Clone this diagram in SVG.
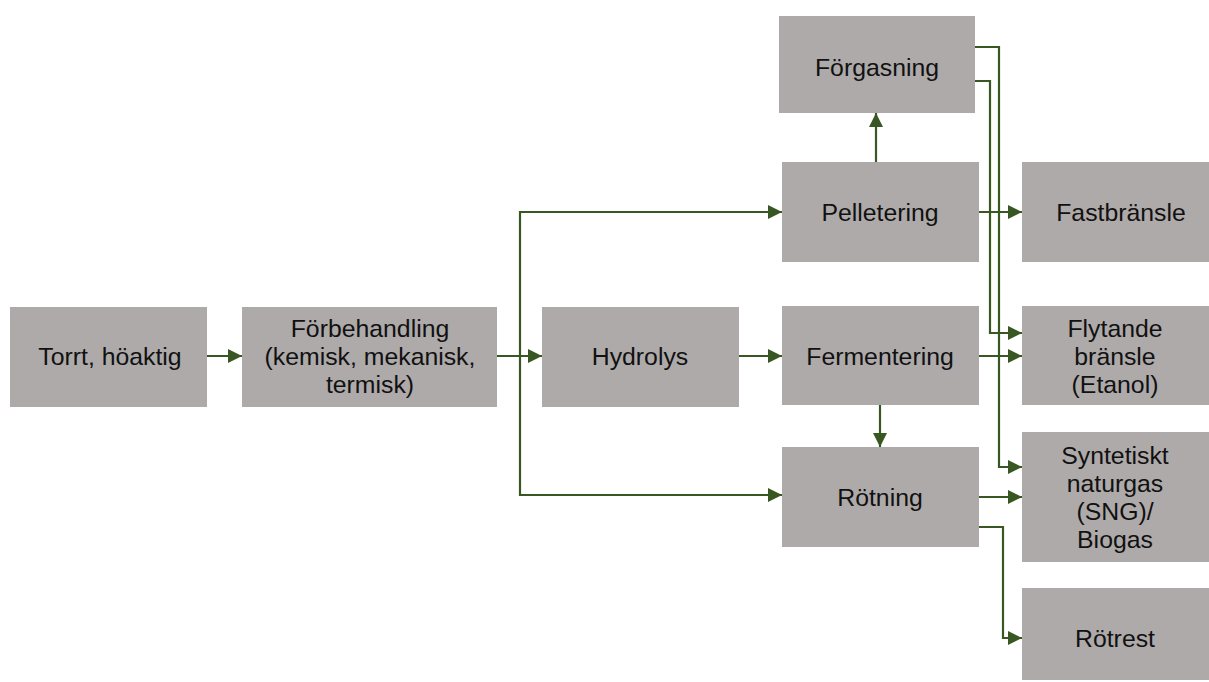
<svg xmlns="http://www.w3.org/2000/svg" width="1209" height="682" viewBox="0 0 1209 682">
<style>
.box{fill:#AEAAAA;}
.t{font-family:"Liberation Sans",Arial,sans-serif;font-size:24.8px;fill:#111;text-anchor:middle;}
.c{fill:none;stroke:#385723;stroke-width:2.2;marker-end:url(#ah);}
</style>
<defs>
<marker id="ah" markerUnits="userSpaceOnUse" markerWidth="14" markerHeight="14" refX="14" refY="7" orient="auto">
<path d="M0,0 L14,7 L0,14 z" fill="#385723"/>
</marker>
</defs>
<rect width="1209" height="682" fill="#fff"/>
<g id="torrt"><rect class="box" x="10" y="307" width="197" height="100"/><text class="t" x="110" y="365">Torrt, höaktig</text></g>
<g id="forbehandling"><rect class="box" x="242" y="307" width="255" height="100"/><text class="t" x="370" y="337">Förbehandling</text><text class="t" x="370" y="365">(kemisk, mekanisk,</text><text class="t" x="370" y="393">termisk)</text></g>
<g id="hydrolys"><rect class="box" x="542" y="307" width="197" height="100"/><text class="t" x="640" y="365">Hydrolys</text></g>
<g id="forgasning"><rect class="box" x="779" y="16" width="196" height="97"/><text class="t" x="877" y="76">Förgasning</text></g>
<g id="pelletering"><rect class="box" x="782" y="162" width="197" height="100"/><text class="t" x="880" y="221">Pelletering</text></g>
<g id="fermentering"><rect class="box" x="782" y="306" width="197" height="99"/><text class="t" x="880" y="365">Fermentering</text></g>
<g id="rotning"><rect class="box" x="782" y="447" width="197" height="100"/><text class="t" x="880" y="506">Rötning</text></g>
<g id="fastbransle"><rect class="box" x="1022" y="162" width="187" height="100"/><text class="t" x="1121" y="221">Fastbränsle</text></g>
<g id="flytande"><rect class="box" x="1022" y="306" width="187" height="99"/><text class="t" x="1115" y="337">Flytande</text><text class="t" x="1115" y="365">bränsle</text><text class="t" x="1115" y="393">(Etanol)</text></g>
<g id="sng"><rect class="box" x="1022" y="432" width="187" height="130"/><text class="t" x="1115" y="464">Syntetiskt</text><text class="t" x="1115" y="492">naturgas</text><text class="t" x="1115" y="520">(SNG)/</text><text class="t" x="1115" y="548">Biogas</text></g>
<g id="rotrest"><rect class="box" x="1022" y="588" width="187" height="92"/><text class="t" x="1115" y="647">Rötrest</text></g>
<g id="connectors">
<path class="c" d="M207,356 H242"/>
<path class="c" d="M497,356 H542"/>
<path class="c" d="M520,356 V212 H782"/>
<path class="c" d="M520,356 V495 H782"/>
<path class="c" d="M739,356 H782"/>
<path class="c" d="M876,162 V113"/>
<path class="c" d="M880,405 V447"/>
<path class="c" d="M979,212 H1022"/>
<path class="c" d="M979,356 H1022"/>
<path class="c" d="M979,497 H1022"/>
<path class="c" d="M975,47 H999 V467 H1022"/>
<path class="c" d="M975,81 H990 V333 H1022"/>
<path class="c" d="M979,527 H1003 V638 H1022"/>
</g>
</svg>
